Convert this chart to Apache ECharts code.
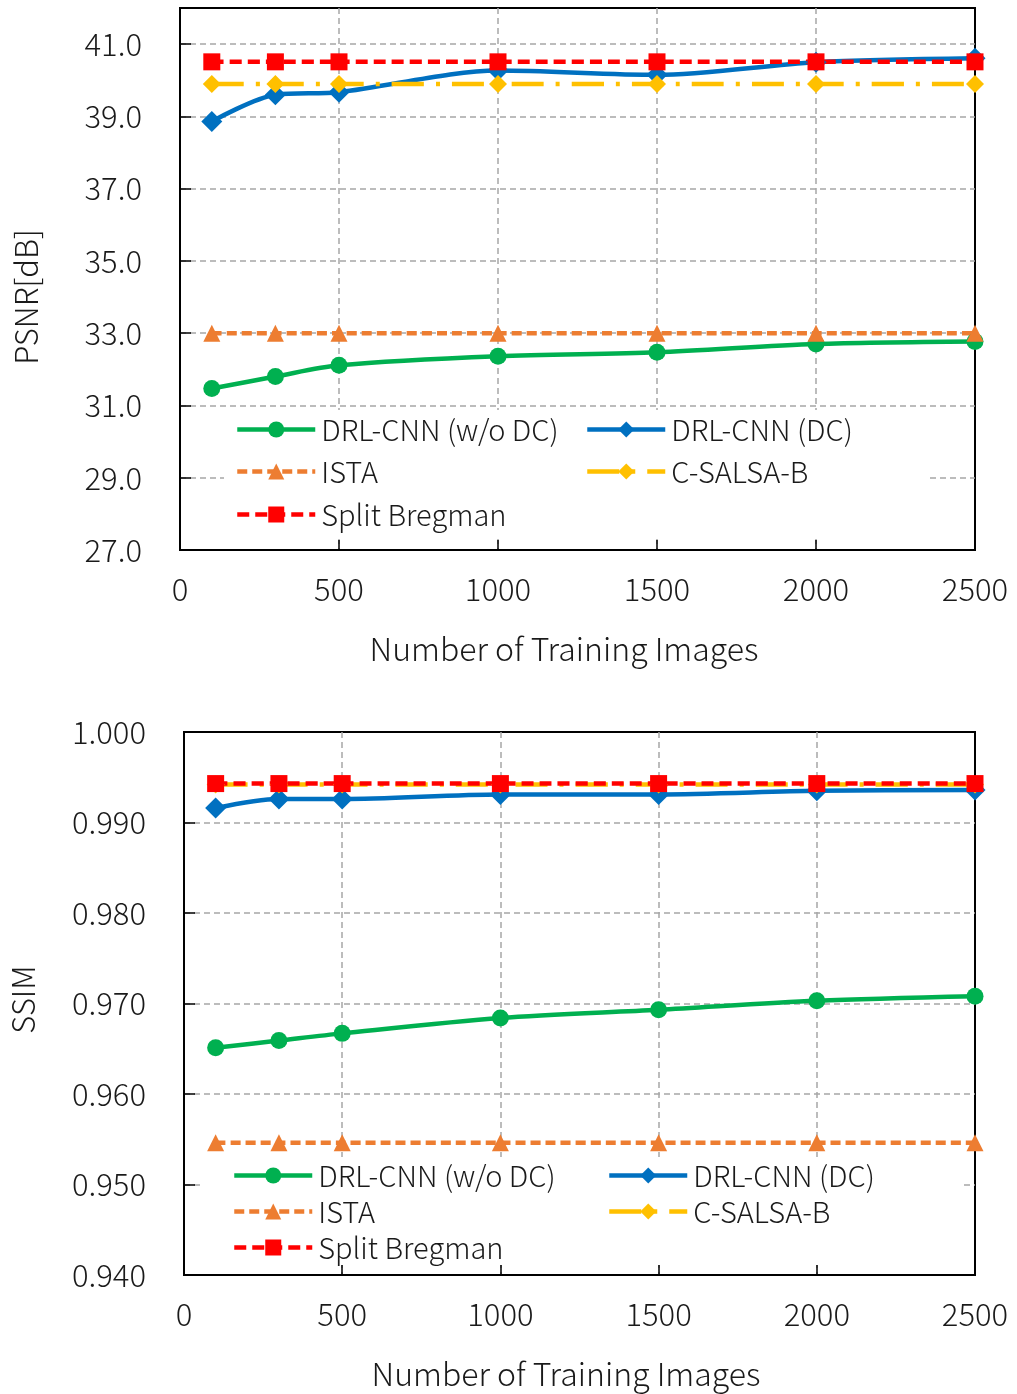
<!DOCTYPE html>
<html>
<head>
<meta charset="utf-8">
<script src="https://cdn.jsdelivr.net/npm/echarts@6/dist/echarts.min.js"></script>
<style>
  html, body { margin: 0; padding: 0; background: #fff; }
  #chart { width: 1017px; height: 1394px; }
</style>
</head>
<body>
<div id="chart"></div>
<script>
// Number of training images (x axis)
const trainingImages = [100, 300, 500, 1000, 1500, 2000, 2500];
const xTicks = [0, 500, 1000, 1500, 2000, 2500];

// PSNR [dB]
const psnrNoDC        = [31.47, 31.80, 32.11, 32.36, 32.47, 32.70, 32.77];
const psnrDC          = [38.86, 39.60, 39.67, 40.27, 40.15, 40.50, 40.61];
const psnrISTA        = [33.00, 33.00, 33.00, 33.00, 33.00, 33.00, 33.00];
const psnrCSALSA      = [39.90, 39.90, 39.90, 39.90, 39.90, 39.90, 39.90];
const psnrSplitBregman= [40.51, 40.51, 40.51, 40.51, 40.51, 40.51, 40.51];
const psnrTicks = [27, 29, 31, 33, 35, 37, 39, 41];

// SSIM
const ssimNoDC        = [0.9651, 0.9659, 0.9667, 0.9684, 0.9693, 0.9703, 0.9708];
const ssimDC          = [0.9916, 0.9926, 0.9926, 0.9931, 0.9931, 0.9935, 0.9936];
const ssimISTA        = [0.9546, 0.9546, 0.9546, 0.9546, 0.9546, 0.9546, 0.9546];
const ssimCSALSA      = [0.9942, 0.9942, 0.9942, 0.9942, 0.9942, 0.9942, 0.9942];
const ssimSplitBregman= [0.9943, 0.9943, 0.9943, 0.9943, 0.9943, 0.9943, 0.9943];
const ssimTicks = [0.94, 0.95, 0.96, 0.97, 0.98, 0.99, 1.00];

const FONT = '"Noto Sans CJK JP", "Noto Sans", sans-serif';
const TEXT = '#1a1a1a';
const WEIGHT = 300;

const styles = {
  'DRL-CNN (w/o DC)': { color: '#00B050', symbol: 'circle',   size: 17, type: 'solid' },
  'DRL-CNN (DC)':     { color: '#0070C0', symbol: 'diamond',  size: 21, type: 'solid' },
  'ISTA':             { color: '#ED7D31', symbol: 'triangle', size: 17, type: [10, 5] },
  'C-SALSA-B':        { color: '#FFC000', symbol: 'diamond',  size: 18, type: [32, 12, 4, 12] },
  'Split Bregman':    { color: '#FF0000', symbol: 'rect',     size: 17, type: [12, 6] }
};

function pairs(ys) { return trainingImages.map((x, i) => [x, ys[i]]); }

function makeSeries(name, ys, idx) {
  const s = styles[name];
  return {
    name: name,
    type: 'line',
    xAxisIndex: idx,
    yAxisIndex: idx,
    data: pairs(ys),
    smooth: 0.3,
    symbol: s.symbol,
    symbolSize: s.size,
    showAllSymbol: true,
    clip: false,
    lineStyle: { color: s.color, width: 4.5, type: s.type },
    itemStyle: { color: s.color, borderWidth: 0 },
    emphasis: { disabled: true },
    animation: false
  };
}

function xAxisFor(idx) {
  return {
    type: 'value', gridIndex: idx, min: 0, max: 2500, interval: 500,
    axisLine: { show: true, onZero: false, lineStyle: { color: '#000', width: 2 } },
    axisTick: { show: true, inside: true, length: 10, lineStyle: { color: '#000', width: 1.5 } },
    axisLabel: { margin: 24, fontSize: 31, fontFamily: FONT, fontWeight: WEIGHT, color: TEXT,
                 formatter: v => String(v) },
    splitLine: { show: true, showMinLine: false, showMaxLine: false,
                 lineStyle: { color: '#A6A6A6', width: 1.5, type: [6, 4] } },
    name: 'Number of Training Images',
    nameLocation: 'middle',
    nameGap: 83,
    nameTextStyle: { fontSize: 32, fontFamily: FONT, fontWeight: WEIGHT, color: TEXT, padding: [0, 27, 0, 0] }
  };
}

function yAxisFor(idx, min, max, interval, digits, title, gap, pad) {
  return {
    type: 'value', gridIndex: idx, min: min, max: max, interval: interval,
    axisLine: { show: true, onZero: false, lineStyle: { color: '#000', width: 2 } },
    axisTick: { show: true, inside: true, length: 11, lineStyle: { color: '#000', width: 1.5 } },
    axisLabel: {
      margin: 38, fontSize: 31, fontFamily: FONT, fontWeight: WEIGHT, color: TEXT,
      showMaxLabel: digits === 1 ? false : true,
      formatter: v => v.toFixed(digits)
    },
    splitLine: { show: true, showMinLine: false, showMaxLine: false,
                 lineStyle: { color: '#A6A6A6', width: 1.5, type: [6, 4] } },
    name: title,
    nameLocation: 'middle',
    nameGap: gap,
    nameTextStyle: { fontSize: 31, fontFamily: FONT, fontWeight: WEIGHT, color: TEXT, padding: pad }
  };
}

const names = ['DRL-CNN (w/o DC)', 'DRL-CNN (DC)', 'ISTA', 'C-SALSA-B', 'Split Bregman'];

function legendItem(name, left, centerY) {
  return {
    data: [name],
    left: left,
    top: centerY - 15,
    padding: 0,
    itemWidth: 78,
    itemHeight: 20,
    itemGap: 0,
    selectedMode: false,
    lineStyle: { width: 4.5 },
    textStyle: { fontSize: 29, fontFamily: FONT, fontWeight: WEIGHT, color: TEXT, padding: [0, 0, 0, 1] }
  };
}

const option = {
  backgroundColor: '#fff',
  animation: false,
  grid: [
    { left: 180, top: 8, width: 795, height: 542, show: true, borderColor: '#000', borderWidth: 2, backgroundColor: 'transparent' },
    { left: 183, top: 732, width: 792, height: 543, show: true, borderColor: '#000', borderWidth: 2, backgroundColor: 'transparent' }
  ],
  xAxis: [xAxisFor(0), xAxisFor(1)],
  yAxis: [
    yAxisFor(0, 27, 42, 2, 1, 'PSNR[dB]', 138, [0, 36, 0, 0]),
    yAxisFor(1, 0.94, 1.0, 0.01, 3, 'SSIM', 145, [0, 0, 0, 8])
  ],
  legend: [
    legendItem(names[0], 235, 430),
    legendItem(names[1], 585, 430),
    legendItem(names[2], 235, 472),
    legendItem(names[3], 585, 472),
    legendItem(names[4], 235, 515),
    legendItem(names[0], 232, 1176),
    legendItem(names[1], 607, 1176),
    legendItem(names[2], 232, 1212),
    legendItem(names[3], 607, 1212),
    legendItem(names[4], 232, 1248)
  ],
  // white panels behind the in-plot legends
  graphic: [
    { type: 'rect', z: 1, silent: true, shape: { x: 224, y: 410, width: 703, height: 129 }, style: { fill: '#fff' } },
    { type: 'rect', z: 1, silent: true, shape: { x: 201, y: 1157, width: 759, height: 108 }, style: { fill: '#fff' } }
  ],
  series: [
    makeSeries(names[0], psnrNoDC, 0),
    makeSeries(names[1], psnrDC, 0),
    makeSeries(names[2], psnrISTA, 0),
    makeSeries(names[3], psnrCSALSA, 0),
    makeSeries(names[4], psnrSplitBregman, 0),
    makeSeries(names[0], ssimNoDC, 1),
    makeSeries(names[1], ssimDC, 1),
    makeSeries(names[2], ssimISTA, 1),
    makeSeries(names[3], ssimCSALSA, 1),
    makeSeries(names[4], ssimSplitBregman, 1)
  ]
};

const chart = echarts.init(document.getElementById('chart'), null, { renderer: 'canvas' });
chart.setOption(option);
</script>
</body>
</html>
